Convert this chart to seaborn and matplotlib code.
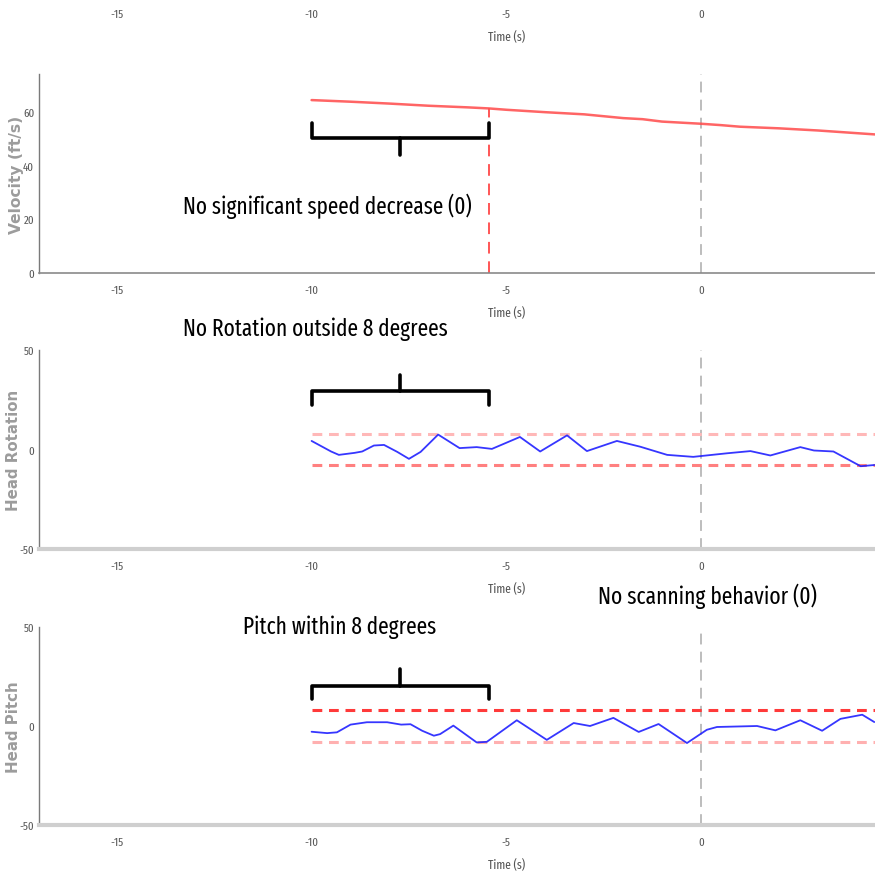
import matplotlib
matplotlib.use('Agg')
import matplotlib.pyplot as plt
import seaborn as sns
from matplotlib import font_manager

# values
vel_time = [-10, -9, -8, -7, -6, -5.45, -5, -4, -3, -2, -1.5, -1, 0, 0.5, 1, 2, 3, 4, 4.5]
velocity = [64.3, 63.7, 63.0, 62.2, 61.6, 61.2, 60.7, 59.8, 59.0, 57.6, 57.2, 56.3,
            55.5, 55.0, 54.4, 53.8, 53.0, 52.0, 51.5]

rot_time = [-10, -9.5, -9.3, -8.9, -8.7, -8.4, -8.14, -7.8, -7.5, -7.2, -6.75, -6.2,
            -5.76, -5.37, -4.65, -4.13, -3.44, -2.93, -2.16, -1.56, -0.87, -0.2, 0.67,
            1.27, 1.78, 2.55, 2.9, 3.4, 4.1, 4.45]
head_rotation = [4.3, -1.0, -2.7, -1.7, -1.0, 2.0, 2.3, -1.2, -4.7, -1.2, 7.5, 0.7,
                 1.2, 0.3, 6.3, -1.0, 7.1, -0.8, 4.3, 1.4, -2.7, -3.7, -1.9,
                 -0.8, -3.0, 1.2, -0.5, -1.0, -8.4, -7.8]

pitch_time = [-10, -9.6, -9.35, -9.0, -8.58, -8.06, -7.7, -7.46, -7.16, -6.86, -6.7,
              -6.36, -5.76, -5.5, -4.73, -3.96, -3.27, -2.85, -2.25, -1.6, -1.09, -0.36,
              0.15, 0.41, 1.44, 1.91, 2.55, 3.11, 3.58, 4.14, 4.45]
head_pitch = [-2.9, -3.6, -3.2, 0.7, 1.9, 1.9, 0.7, 0.9, -2.4, -4.9, -4.1,
              0.2, -8.3, -8.0, 2.9, -7.0, 1.5, 0.0, 4.1, -3.0, 1.0, -8.6,
              -1.9, -0.5, 0.0, -2.2, 2.9, -2.4, 3.6, 5.7, 2.0]

x_ticks = [-15, -10, -5, 0]
vel_yticks = [0, 20, 40, 60]
head_yticks = [-50, 0, 50]
threshold = 8
window_start = -10
window_end = -5.45
event_time = 0
x_lim = (-17, 7)

sns.set_theme(style='white')

# the reference text is very narrow, pick a condensed family if one is installed
installed = {f.name for f in font_manager.fontManager.ttflist}
preferred = ['Fira Sans Extra Condensed', 'Fira Sans Condensed', 'Open Sans Condensed',
             'Sofia Sans Extra Condensed', 'Barlow Condensed', 'Roboto Condensed',
             'Sofia Sans Condensed', 'Sofia Sans Semi Condensed', 'Liberation Sans Narrow']
narrow = next((n for n in preferred if n in installed), 'DejaVu Sans')
plt.rcParams['font.family'] = [narrow, 'DejaVu Sans']
plt.rcParams['axes.unicode_minus'] = False

fig = plt.figure(figsize=(8.75, 8.78), dpi=100)
W, H = 875, 878


def add_axes(top_px, bottom_px):
    # axes run past the right edge, like the cropped original
    return fig.add_axes([39 / W, 1 - bottom_px / H, 934.6 / W, (bottom_px - top_px) / H])


def style_axis(ax, ylim, yticks, ylabel, label_size, bottom_color, bottom_width):
    ax.set_xlim(*x_lim)
    ax.set_ylim(*ylim)
    ax.set_xticks(x_ticks)
    ax.set_yticks(yticks)
    ax.set_xlabel('Time (s)', fontsize=9, color='#555555')
    ax.xaxis.set_label_coords(0.5, -0.165)
    ax.set_ylabel(ylabel, family='DejaVu Sans', fontsize=label_size, fontweight='bold',
                  color='#9c9c9c')
    ax.yaxis.set_label_coords(-0.019, 0.5)
    ax.tick_params(axis='x', direction='in', length=13.5, width=1, color='#333333',
                   pad=8, labelsize=8.5, labelcolor='#5a5a5a')
    ax.tick_params(axis='y', direction='in', length=5, width=1, color='#666666',
                   pad=3.5, labelsize=8.5, labelcolor='#5a5a5a')
    for s in ['top', 'right']:
        ax.spines[s].set_visible(False)
    ax.spines['left'].set_color('#7a7a7a')
    ax.spines['left'].set_linewidth(1)
    ax.spines['bottom'].set_color(bottom_color)
    ax.spines['bottom'].set_linewidth(bottom_width)
    ax.grid(False)


def draw_bracket(ax, y_line, y_end, y_tip):
    mid = (window_start + window_end) / 2
    ax.plot([window_start, window_start, window_end, window_end],
            [y_end, y_line, y_line, y_end], color='black', lw=2.6,
            solid_joinstyle='round', solid_capstyle='round')
    ax.plot([mid, mid], [y_line, y_tip], color='black', lw=2.6, solid_capstyle='round')


# cropped panel above: only its tick labels and x label show
ax_top = fig.add_axes([39 / W, 1 + 2 / H, 934.6 / W, 199 / H])
style_axis(ax_top, (-50, 50), [], '', 10, '#ffffff', 0)
ax_top.tick_params(axis='x', length=0)
for s in ax_top.spines.values():
    s.set_visible(False)

notes = []

# velocity
ax1 = add_axes(75, 274)
style_axis(ax1, (0, 74), vel_yticks, 'Velocity (ft/s)', 11.2, '#8a8a8a', 1.2)
ax1.yaxis.set_label_coords(-0.016, 0.5)
ax1.axvline(event_time, color='#b8b8b8', lw=1.3, ls=(0, (6, 4)))
sns.lineplot(x=vel_time, y=velocity, ax=ax1, color='#ff4a4a', lw=1.8, alpha=0.85)
ax1.vlines(window_end, 0, 61.2, color='#ff5555', lw=1.4, ls=(0, (6, 4)))
draw_bracket(ax1, 50.3, 55.6, 44)
notes.append((ax1.text(-9.6, 25, 'No significant speed decrease (0)', fontsize=20,
                       color='black', ha='center', va='center'), 290))

# head rotation
ax2 = add_axes(351, 550)
style_axis(ax2, (-50, 50), head_yticks, 'Head Rotation', 10.8, '#cfcfcf', 3)
ax2.axvline(event_time, color='#b8b8b8', lw=1.3, ls=(0, (6, 4)))
ax2.hlines(threshold, window_start, x_lim[1], color='#ffb8b8', lw=2.2, ls=(0, (3.2, 2.2)))
ax2.hlines(-threshold, window_start, x_lim[1], color='#ff8080', lw=2.2, ls=(0, (3.2, 2.2)))
sns.lineplot(x=rot_time, y=head_rotation, ax=ax2, color='#2020ff', lw=1.3, alpha=0.9)
draw_bracket(ax2, 29.4, 22.3, 37.6)
notes.append((ax2.text(-9.9, 60.8, 'No Rotation outside 8 degrees', fontsize=20,
                       color='black', ha='center', va='center', clip_on=False), 266))

# head pitch
ax3 = add_axes(628, 826)
style_axis(ax3, (-50, 50), head_yticks, 'Head Pitch', 10.8, '#cfcfcf', 3)
ax3.axvline(event_time, color='#b8b8b8', lw=1.3, ls=(0, (6, 4)))
ax3.hlines(threshold, window_start, x_lim[1], color='#ff3a3a', lw=2.2, ls=(0, (3.2, 2.2)))
ax3.hlines(-threshold, window_start, x_lim[1], color='#ffb0b0', lw=2.2, ls=(0, (3.2, 2.2)))
sns.lineplot(x=pitch_time, y=head_pitch, ax=ax3, color='#2020ff', lw=1.3, alpha=0.9)
draw_bracket(ax3, 20.3, 13.7, 29)
notes.append((ax3.text(-9.27, 50.3, 'Pitch within 8 degrees', fontsize=20,
                       color='black', ha='center', va='center', clip_on=False), 194))
notes.append((ax3.text(0.16, 66, 'No scanning behavior (0)', fontsize=20,
                       color='black', ha='center', va='center', clip_on=False), 219))

# size the annotations so their widths match the reference
fig.canvas.draw()
renderer = fig.canvas.get_renderer()
for txt, target in notes:
    width = txt.get_window_extent(renderer).width
    txt.set_fontsize(txt.get_fontsize() * target / width)

fig.savefig('out.png', dpi=100)
